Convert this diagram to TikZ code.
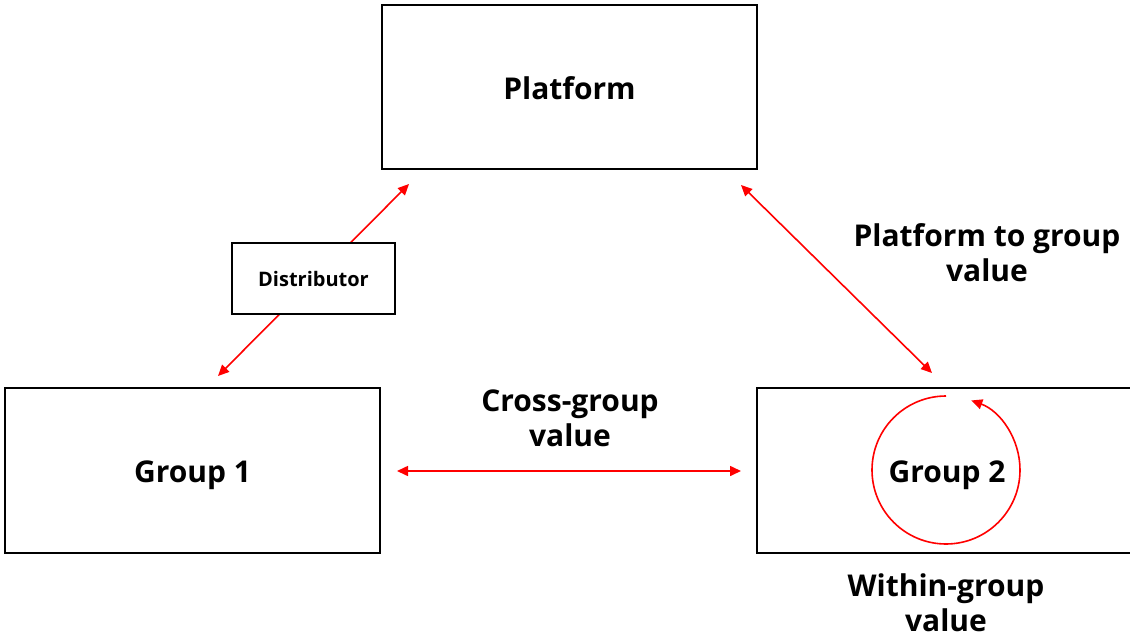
\documentclass[tikz,border=0pt]{standalone}
\usepackage{fontspec}
\setmainfont{Open Sans}
\usetikzlibrary{arrows.meta}
\begin{document}
\begin{tikzpicture}[x=1pt,y=-1pt,
  box/.style={draw=black,line width=1.5pt,fill=white,inner sep=0pt},
  lbl/.style={font=\fontsize{30}{35}\selectfont\bfseries,align=center},
  redarr/.style={draw=red,line width=1.6pt,{Triangle[length=11pt,width=10pt]}-{Triangle[length=11pt,width=10pt]}}]
\useasboundingbox (0,0) rectangle (1130,637);
% connectors first (under boxes)
\coordinate (d1) at (218,376);
\coordinate (d2) at (409,184);
\coordinate (p1) at (741,185);
\coordinate (p2) at (932,373);
\coordinate (h1) at (397,471);
\coordinate (h2) at (741,471);
\draw[redarr] (d1) -- (d2);
\draw[redarr] (p1) -- (p2);
\draw[redarr] (h1) -- (h2);
% boxes
\node[box,minimum width=375pt,minimum height=164pt,label={[lbl,yshift=-1pt]center:Platform}] (platform) at (569.5,87) {};
\node[box,minimum width=163pt,minimum height=71pt,font=\fontsize{20}{24}\selectfont\bfseries] (dist) at (313.5,278.5) {Distributor};
\node[box,minimum width=375pt,minimum height=165pt,label={[lbl,yshift=-4.5pt]center:Group 1}] (g1) at (192.5,470.5) {};
\node[box,minimum width=380pt,minimum height=165pt,label={[lbl,yshift=-4.5pt]center:Group 2}] (g2) at (947,470.5) {};
% circle arrow
\coordinate (cc) at (946,470);
\draw[red,line width=1.6pt,-{Triangle[length=11pt,width=10pt]}] ([shift={(-90:74)}]cc) arc[start angle=-90,end angle=-430,radius=74];
% labels
\node[lbl] (l1) at (987,253) {Platform to group\\value};
\node[lbl] (l2) at (570,418) {Cross-group\\value};
\node[lbl] (l3) at (946,603) {Within-group\\value};
\end{tikzpicture}
\end{document}
